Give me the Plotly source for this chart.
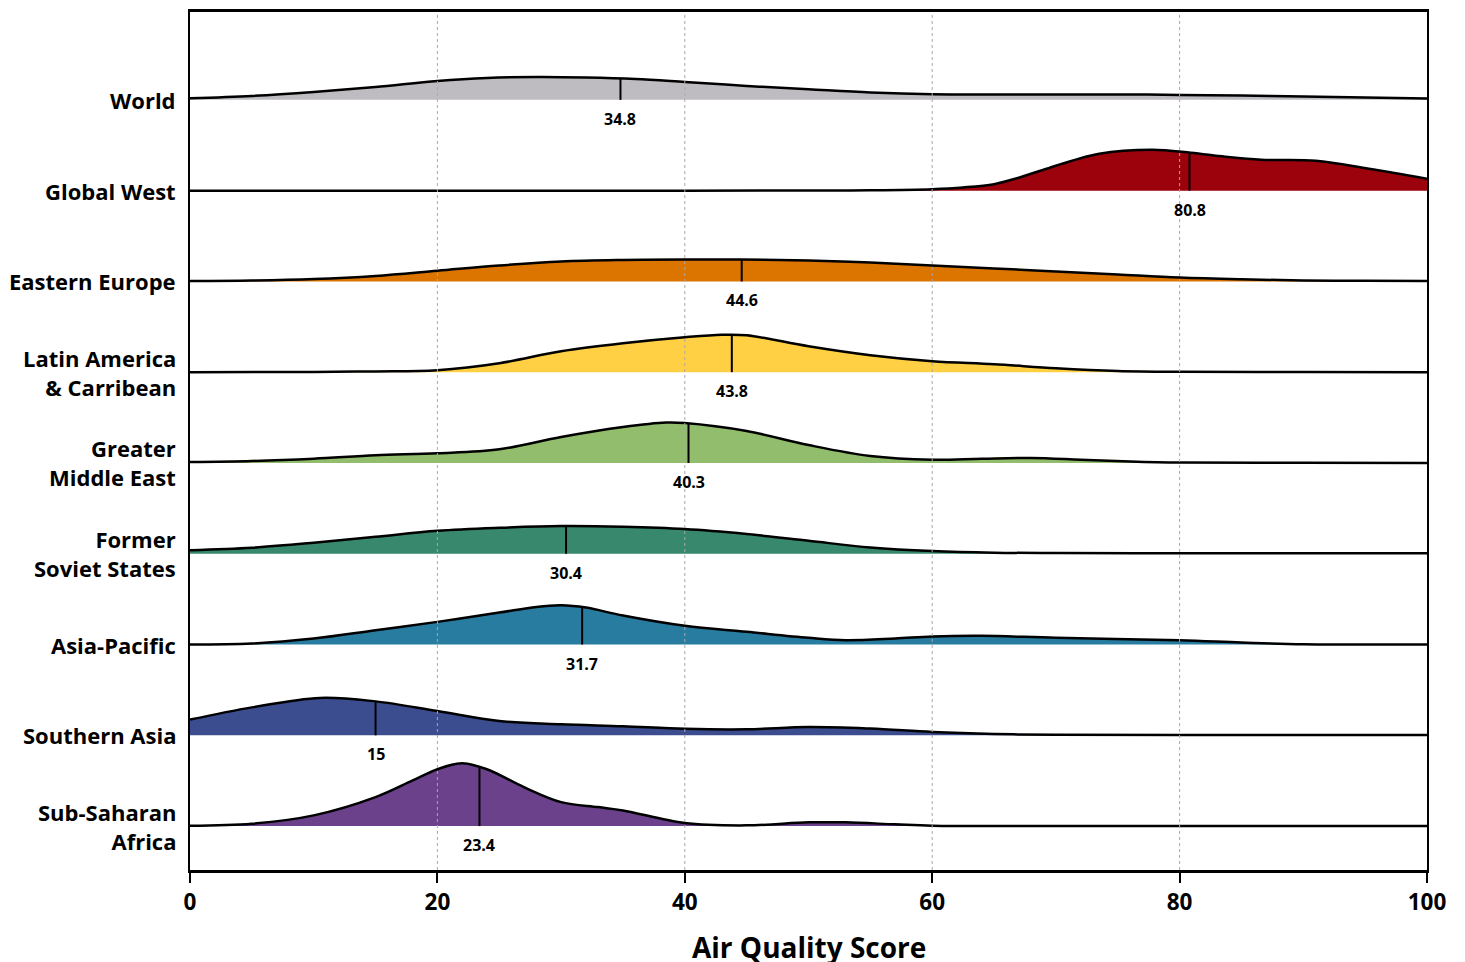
import numpy as np
import plotly.graph_objects as go

# ---------------- data ----------------
regions = ["World", "Global West", "Eastern Europe", "Latin America<br>& Carribean",
           "Greater<br>Middle East", "Former<br>Soviet States", "Asia-Pacific",
           "Southern Asia", "Sub-Saharan<br>Africa"]
means = [34.8, 80.8, 44.6, 43.8, 40.3, 30.4, 31.7, 15, 23.4]
mean_labels = ["34.8", "80.8", "44.6", "43.8", "40.3", "30.4", "31.7", "15", "23.4"]
colors = ["#bebcc1", "#9c020c", "#db7500", "#ffd044", "#91bd6c", "#37886d",
          "#287ca0", "#3c4d8f", "#6a418a"]

# density curves (score, relative density height)
world_x = [0, 5, 10, 15, 20, 24, 28, 32, 36, 40, 45, 50, 55, 60, 65, 70, 75, 80, 85, 90, 95, 100]
world_h = [1.7, 4, 8, 13, 19, 22, 23, 22.5, 21, 18, 14, 10.7, 7.5, 5.7, 5.4, 5.3, 5.4, 5, 4.3, 3.3, 2.3, 1.3]

west_x = [0, 20, 40, 50, 55, 60, 62.5, 65, 67, 69, 73.5, 77.8, 80.9, 83.7, 86.6, 91, 95.3, 100]
west_h = [0, 0, 0, 0.1, 0.4, 1.5, 3.2, 6.5, 13, 21, 37, 41, 38, 34, 31, 30, 22, 12]

east_x = [0, 5, 10, 15, 20, 25, 30, 35, 40, 44.6, 50, 55, 60, 65, 70, 75, 80, 85, 90, 95, 100]
east_h = [0.3, 0.8, 2.3, 5.5, 10.7, 16, 20, 21.5, 22, 22, 21, 19, 16, 13, 10, 7, 4, 2.2, 1, 0.6, 0.4]

latin_x = [0, 10, 15, 20, 25, 30, 35, 40, 43, 45, 50, 55, 60, 65, 70, 75, 80, 90, 100]
latin_h = [0, 0.3, 0.8, 2, 9, 21, 29, 35, 37.5, 37, 26, 17, 11, 8, 4, 1.3, 0.4, 0.1, 0]

gme_x = [0, 5, 10, 15, 20, 25, 30, 35, 38.5, 40, 45, 50, 55, 60, 64, 68, 72, 76, 80, 90, 100]
gme_h = [1, 2, 4.3, 7.7, 9.7, 13.7, 26, 36, 40.5, 40, 32, 18, 7, 3.3, 4.3, 5, 3.3, 1.5, 0.4, 0.1, 0]

fss_x = [0, 5, 10, 15, 20, 25, 30, 35, 40, 45, 50, 55, 60, 65, 70, 80, 90, 100]
fss_h = [3.5, 6, 11, 17, 23, 26, 27.7, 27, 24.7, 19.7, 13, 6.3, 2.7, 1.1, 0.7, 0.6, 0.5, 0.5]

asia_x = [0, 5, 10, 15, 20, 25, 28, 30, 32, 35, 40, 45, 50, 53, 57, 60, 64, 70, 80, 85, 90, 100]
asia_h = [0, 1, 6, 14.3, 22.7, 32, 37.7, 39.3, 37, 29, 18.7, 12.7, 6.7, 4.3, 6, 8, 8.7, 6.7, 4.3, 2, 0.3, 0]

south_x = [0, 5, 10.5, 15, 20, 25, 30, 35, 40, 45, 50, 55, 60, 65, 70, 80, 100]
south_h = [15.7, 28, 37.5, 34, 24.3, 14.3, 11, 9, 6.5, 6, 8.3, 6.7, 3.3, 1.3, 0.5, 0.3, 0.3]

ssa_x = [0, 5, 10, 15, 18, 20, 22, 24, 27, 30, 33, 35, 40, 45, 50, 53, 57, 60, 70, 100]
ssa_h = [0.3, 2.3, 10.7, 29, 45.7, 57, 63, 57, 39, 24, 19, 15.7, 3, 0.7, 3.7, 3.7, 1.7, 0.3, 0, 0]

curves_x = [world_x, west_x, east_x, latin_x, gme_x, fss_x, asia_x, south_x, ssa_x]
curves_h = [world_h, west_h, east_h, latin_h, gme_h, fss_h, asia_h, south_h, ssa_h]

x_ticks = [0, 20, 40, 60, 80, 100]

# ---------------- figure ----------------
SCALE = 1 / 91.0
FONT = "Open Sans"
n = len(regions)

fig = go.Figure()
shapes = []
annotations = []

for i, name in enumerate(regions):
    base = n - 1 - i
    xs = curves_x[i]
    ys = [base + h * SCALE for h in curves_h[i]]
    fig.add_trace(go.Scatter(x=[xs[0], xs[-1]], y=[base, base], mode="lines",
                             line=dict(width=0), hoverinfo="skip", showlegend=False))
    fig.add_trace(go.Scatter(x=xs, y=ys, mode="lines", fill="tonexty",
                             fillcolor=colors[i],
                             line=dict(color="black", width=2.5, shape="spline", smoothing=1),
                             hoverinfo="skip", showlegend=False))
    mh = float(np.interp(means[i], xs, curves_h[i])) * SCALE
    shapes.append(dict(type="line", xref="x", yref="y", x0=means[i], x1=means[i],
                       y0=base, y1=base + mh, line=dict(color="black", width=2), layer="above"))
    annotations.append(dict(x=means[i], y=base, xref="x", yref="y", text=mean_labels[i],
                            showarrow=False, yshift=-19, yanchor="middle",
                            font=dict(family=FONT, size=16, color="black", weight=700)))
    annotations.append(dict(x=0, y=base, xref="paper", yref="y", text=name, showarrow=False,
                            xanchor="right", yanchor="middle", align="right", xshift=-12,
                            font=dict(family=FONT, size=22, color="black", weight=700)))

for t in x_ticks[1:-1]:
    shapes.append(dict(type="line", xref="x", yref="paper", x0=t, x1=t, y0=0, y1=1,
                       line=dict(color="#a8a8a8", width=1, dash="dot"), layer="above"))

annotations.append(dict(x=0.5, y=0, xref="paper", yref="paper", text="Air Quality Score",
                        showarrow=False, yanchor="middle", yshift=-77,
                        font=dict(family=FONT, size=28, color="black", weight=700)))

fig.update_layout(
    width=1457, height=954,
    margin=dict(l=182, r=38, t=1, b=92),
    paper_bgcolor="white", plot_bgcolor="white",
    shapes=shapes, annotations=annotations,
    xaxis=dict(range=[0, 100], tickvals=x_ticks, ticks="outside", ticklen=10,
               tickwidth=1.5, tickcolor="black", showgrid=False, zeroline=False,
               showline=True, linecolor="black", linewidth=2.5, mirror=True,
               tickfont=dict(family=FONT, size=22.5, color="black", weight=700)),
    yaxis=dict(range=[-0.484, 8.968], showticklabels=False, ticks="", showgrid=False,
               zeroline=False, showline=True, linecolor="black", linewidth=2, mirror=True),
)

fig.write_html("out.html")
